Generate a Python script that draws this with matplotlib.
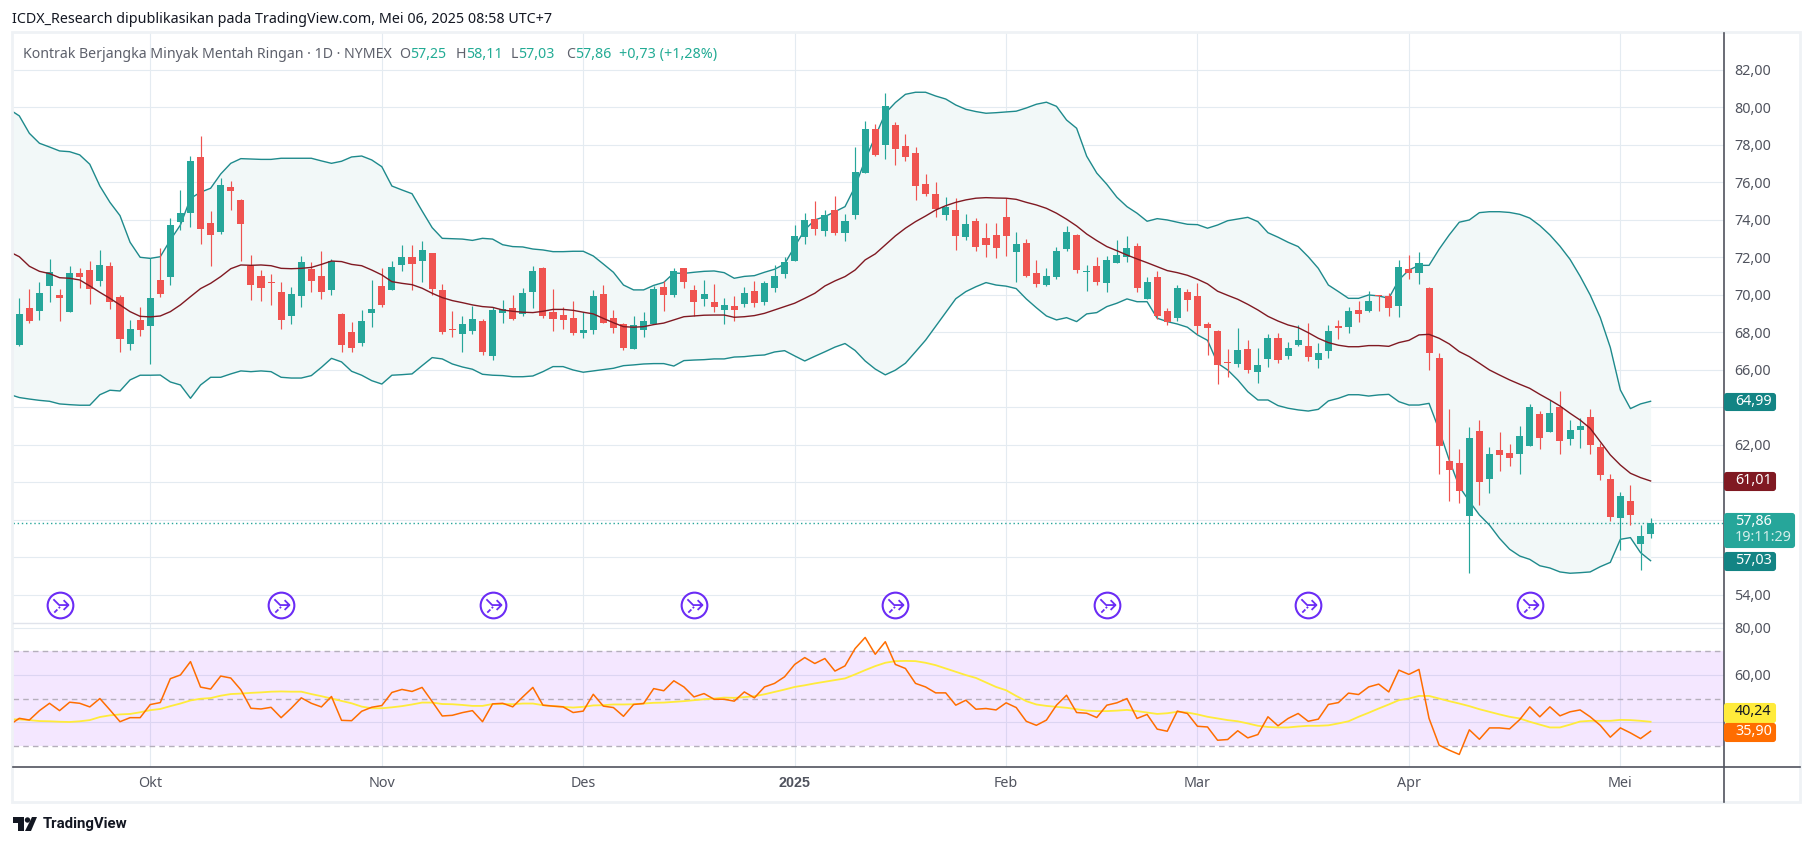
import numpy as np
import matplotlib
matplotlib.use("Agg")
import matplotlib.pyplot as plt
from matplotlib.lines import Line2D
from matplotlib.patches import FancyBboxPatch, Polygon, Circle
from matplotlib.path import Path
from matplotlib.transforms import Affine2D

# daily candles, first one mid September 2024, last one 6 May 2025
opens = [67.33,69.30,69.15,70.48,69.98,69.09,71.17,71.33,70.74,71.55,69.89,67.39,68.67,68.35,70.80,70.96,73.89,74.37,77.36,73.84,
         73.36,75.76,75.07,71.55,71.00,70.67,70.16,68.88,69.94,71.39,71.00,70.27,68.99,68.03,67.44,69.04,70.48,70.27,71.60,72.03,
         71.81,72.24,70.27,68.18,67.92,68.08,68.61,66.75,69.04,69.31,68.99,70.16,71.44,69.09,68.93,68.77,67.97,68.13,70.05,68.77,
         68.45,67.12,68.13,68.45,70.43,70.00,71.44,70.27,69.79,69.63,69.20,69.41,69.52,70.21,69.63,70.37,71.12,71.81,73.09,74.05,
         73.41,74.53,73.31,74.27,76.51,78.85,78.00,79.07,77.95,77.57,75.92,75.39,74.27,74.53,73.09,73.95,73.04,73.20,74.16,72.29,
         72.77,71.17,70.53,70.96,72.45,73.20,71.23,71.55,70.64,71.71,72.03,72.61,69.79,70.96,69.15,68.77,70.16,69.95,68.45,68.08,
         66.43,66.32,67.12,65.89,66.59,67.71,66.75,67.33,67.28,66.53,67.01,68.35,68.29,69.20,69.15,70.00,69.95,69.41,71.39,71.17,
         70.37,66.64,61.15,61.04,58.20,62.75,60.19,61.73,61.57,61.52,61.95,63.65,62.69,64.03,62.32,62.80,63.49,61.89,60.19,58.11,
         59.01,56.72,57.25]
highs = [69.84,70.30,70.68,71.92,70.30,71.55,71.44,71.81,72.40,71.74,69.98,68.67,69.36,71.97,72.50,74.10,75.60,77.41,78.48,74.48,
         76.24,76.08,75.12,72.13,71.33,71.12,70.69,70.43,72.08,71.76,72.35,71.90,69.04,68.56,69.20,70.80,71.44,71.81,72.67,72.67,
         72.88,72.24,70.59,69.15,68.88,69.41,68.72,69.36,69.73,70.00,70.37,71.55,71.49,70.32,69.36,69.68,69.09,70.27,70.53,69.20,
         68.50,68.88,69.09,70.48,70.75,71.44,71.44,70.53,70.80,70.59,69.84,69.95,70.43,70.75,70.75,71.60,72.03,73.73,74.37,75.01,
         74.53,75.28,74.32,77.89,79.28,79.12,80.77,79.23,78.59,77.89,76.45,76.03,75.23,75.17,74.32,74.11,73.84,73.84,75.17,73.36,
         72.99,71.87,71.44,72.56,73.68,73.25,71.60,72.03,72.08,72.93,73.15,72.77,70.96,71.28,69.31,70.53,70.32,70.64,68.56,68.13,
         67.12,68.24,67.60,67.17,67.92,67.97,67.49,68.40,68.51,67.44,68.40,68.67,69.36,69.68,70.21,70.00,70.11,71.87,72.13,72.29,
         70.43,66.91,63.92,61.79,62.96,63.33,61.89,62.69,62.05,63.01,64.19,63.81,64.40,64.88,63.33,63.44,63.92,62.11,60.45,59.49,
         59.87,57.73,58.11]
lows = [67.28,68.52,68.67,69.62,68.61,69.09,70.37,69.52,70.48,69.25,66.96,67.07,67.80,66.32,69.90,70.53,73.47,73.63,72.72,71.55,
        73.25,74.53,71.81,69.73,69.68,69.47,68.19,68.45,69.36,70.16,69.78,70.00,66.96,66.97,67.28,68.31,69.36,70.27,71.28,70.27,
        70.69,70.00,67.92,67.76,66.96,67.92,66.80,66.53,68.50,68.67,68.88,69.31,68.77,68.08,68.19,67.87,67.71,67.92,68.50,67.97,
        67.07,67.12,67.76,68.45,69.15,69.89,70.37,68.88,69.41,69.09,68.45,68.61,69.36,69.36,69.47,70.16,70.90,71.81,72.72,73.20,
        73.15,73.20,72.88,74.05,76.51,77.41,77.25,76.93,77.15,75.07,75.28,74.16,74.00,72.40,72.93,72.35,72.03,71.97,72.08,70.69,
        70.96,70.43,70.48,70.85,72.35,71.17,70.21,70.53,70.16,71.71,71.76,70.16,69.79,68.72,68.40,68.61,69.15,67.92,66.80,65.25,
        65.63,66.16,65.84,65.31,66.16,66.37,66.59,67.28,66.48,66.11,66.64,67.65,67.97,68.56,69.09,69.15,68.88,68.83,70.85,70.59,
        66.00,60.45,59.00,58.90,55.17,58.80,59.44,60.61,60.88,60.45,61.95,61.79,62.69,61.52,62.00,61.84,61.52,60.13,57.95,56.40,
        57.73,55.33,57.03]
closes = [68.99,68.61,70.09,71.21,69.84,71.17,70.96,70.32,71.60,69.62,67.65,68.19,68.13,69.84,70.05,73.73,74.37,77.15,73.52,73.20,
          75.87,75.55,73.79,70.53,70.37,70.64,68.67,70.05,71.76,70.74,70.16,71.81,67.33,67.17,68.61,69.25,69.47,71.49,72.03,71.65,
          72.40,70.32,68.03,68.13,68.45,68.72,66.96,69.20,69.25,68.72,70.10,71.28,68.88,68.72,68.67,67.97,68.13,69.95,68.50,68.24,
          67.17,68.40,68.61,70.32,70.00,71.28,70.69,69.63,70.05,69.36,69.47,69.20,70.10,69.57,70.64,71.01,71.76,73.15,74.00,73.52,
          74.27,73.31,73.95,76.56,78.85,77.47,80.08,77.79,77.36,75.81,75.39,74.59,74.69,73.15,73.79,72.56,72.67,72.51,73.15,72.72,
          71.01,70.59,71.01,72.35,73.36,71.33,71.28,70.69,71.87,72.13,72.51,70.37,70.69,68.88,68.56,70.37,69.73,68.35,68.24,66.27,
          66.37,67.07,66.00,66.27,67.71,66.53,67.17,67.60,66.69,66.91,68.08,68.24,69.15,68.99,69.68,69.95,69.31,71.49,71.17,71.71,
          66.91,61.95,60.67,59.55,62.37,60.03,61.52,61.47,61.31,62.48,64.03,62.37,63.71,62.21,62.80,63.01,62.00,60.40,58.16,59.28,
          58.27,57.15,57.86]

# bollinger bands, these start one day before the first candle
band_upper = [79.90,79.55,78.62,78.09,77.89,77.68,77.64,77.47,76.97,75.81,74.94,74.23,72.81,72.01,71.95,72.04,72.93,73.73,75.15,75.48,
              75.69,76.45,77.02,77.27,77.25,77.23,77.23,77.29,77.29,77.29,77.29,77.15,77.02,77.13,77.36,77.41,77.20,76.84,75.81,75.60,
              75.40,74.48,73.59,73.02,73.00,72.98,72.91,73.02,72.98,72.68,72.58,72.56,72.45,72.40,72.31,72.31,72.33,72.33,72.08,71.65,
              71.21,70.53,70.27,70.27,70.51,70.67,71.17,71.15,71.21,71.26,71.28,71.19,70.89,70.99,71.03,71.21,71.37,71.65,72.58,73.47,
              74.00,74.18,74.44,74.71,75.78,77.20,78.44,79.69,80.26,80.70,80.81,80.81,80.61,80.45,80.13,79.90,79.78,79.69,79.72,79.76,
              79.80,79.97,80.17,80.28,80.06,79.33,78.89,77.40,76.50,75.90,75.21,74.71,74.36,73.93,74.07,74.00,73.88,73.77,73.75,73.56,
              73.73,73.96,74.05,74.14,73.91,73.32,73.08,72.81,72.58,72.04,71.42,70.53,70.18,69.82,69.82,70.00,69.95,69.82,70.80,71.33,
              71.58,71.58,72.44,73.20,73.88,74.00,74.39,74.44,74.44,74.40,74.30,74.10,73.70,73.20,72.60,71.90,71.00,70.00,68.80,67.20,
              64.93,63.94,64.19,64.33]
band_basis = [72.31,72.04,71.53,71.26,71.14,70.92,70.89,70.80,70.48,70.14,69.82,69.47,69.11,68.86,68.83,68.88,69.11,69.47,69.91,70.34,
              70.62,70.98,71.40,71.60,71.58,71.60,71.56,71.42,71.40,71.42,71.47,71.63,71.81,71.78,71.63,71.56,71.33,71.07,70.71,70.62,
              70.55,70.36,70.09,69.86,69.70,69.59,69.47,69.38,69.34,69.20,69.13,69.08,69.06,69.13,69.23,69.23,69.18,69.08,68.99,68.75,
              68.52,68.31,68.28,68.31,68.42,68.50,68.67,68.84,68.88,68.92,68.93,68.93,68.81,68.84,68.90,69.02,69.20,69.38,69.56,69.82,
              70.09,70.48,70.75,70.98,71.33,71.87,72.19,72.67,73.15,73.56,73.91,74.21,74.53,74.76,74.94,75.07,75.16,75.19,75.17,75.16,
              75.10,74.94,74.80,74.62,74.36,74.04,73.68,73.25,72.90,72.58,72.36,72.13,71.92,71.72,71.51,71.30,71.19,71.05,70.84,70.59,
              70.20,69.98,69.77,69.50,69.20,68.86,68.61,68.40,68.26,67.99,67.69,67.46,67.32,67.24,67.24,67.30,67.30,67.26,67.46,67.58,
              67.87,67.90,67.69,67.39,66.98,66.71,66.36,66.00,65.73,65.47,65.24,65.02,64.70,64.40,64.08,63.69,63.33,62.89,62.18,61.47,
              60.93,60.49,60.26,60.08]
band_lower = [64.70,64.53,64.45,64.38,64.33,64.19,64.15,64.12,64.12,64.68,64.92,64.88,65.47,65.72,65.72,65.73,65.36,65.20,64.49,65.20,
              65.61,65.61,65.79,65.95,65.91,65.95,65.91,65.61,65.57,65.57,65.70,66.14,66.62,66.43,65.93,65.72,65.43,65.25,65.72,65.75,
              65.79,66.23,66.66,66.59,66.32,66.16,66.04,65.77,65.72,65.70,65.64,65.64,65.68,65.91,66.18,66.18,66.00,65.88,65.95,66.02,
              66.09,66.23,66.27,66.32,66.34,66.34,66.21,66.50,66.53,66.55,66.59,66.59,66.69,66.71,66.77,66.80,66.96,67.03,66.75,66.48,
              66.73,66.97,67.22,67.41,67.04,66.48,66.05,65.74,65.99,66.36,66.97,67.59,68.33,69.07,69.80,70.18,70.44,70.66,70.53,70.47,
              70.34,69.79,69.32,68.88,68.67,68.79,68.58,68.99,69.06,69.38,69.56,69.79,69.64,69.64,68.76,68.58,68.45,68.28,67.87,67.58,
              66.36,66.00,65.47,64.84,64.40,64.40,64.10,63.96,63.87,63.81,63.90,64.35,64.49,64.68,64.68,64.61,64.67,64.70,64.31,64.13,
              64.13,64.22,62.80,61.20,59.78,59.00,58.27,57.73,57.02,56.44,56.08,55.90,55.56,55.44,55.23,55.16,55.19,55.23,55.51,55.74,
              56.97,57.06,56.26,55.83]

# rsi and its moving average, same start as the bands
rsi = [38.8,41.65,40.94,44.9,48.0,44.9,48.46,48.0,46.47,50.0,45.2,40.23,41.93,41.93,47.46,48.3,58.4,59.95,65.6,54.84,
       54.0,59.5,58.67,53.7,45.9,45.6,46.3,41.93,45.9,50.3,48.0,46.47,50.87,40.8,40.65,44.63,46.33,47.04,52.57,53.85,
       53.0,54.7,48.74,42.64,42.92,44.06,44.9,40.23,47.75,48.0,46.5,50.7,54.7,47.2,46.8,46.5,44.1,44.7,51.8,46.8,
       46.2,42.5,47.5,47.9,54.2,53.3,57.5,54.9,50.7,52.1,49.7,49.7,48.9,52.8,50.3,54.9,56.4,59.2,64.4,67.3,
       64.8,66.9,61.6,63.8,71.1,75.8,68.7,74.0,64.4,62.7,56.4,54.9,52.4,52.4,47.2,49.3,45.5,45.8,45.2,48.2,
       46.2,40.4,38.7,40.9,47.2,51.4,44.1,43.8,42.0,47.2,48.2,50.0,41.6,43.3,37.1,36.2,44.7,43.7,38.3,38.0,
       32.4,32.7,36.4,33.4,34.8,42.3,38.5,41.6,43.7,40.4,41.3,47.5,48.3,52.3,51.7,54.9,56.1,52.8,62.0,60.2,
       62.3,41.6,30.3,28.2,26.4,36.8,32.8,37.6,37.6,37.2,41.1,46.5,42.3,46.5,42.7,44.4,45.2,42.3,38.7,33.7,
       37.6,35.5,33.1,36.2]
rsi_ma = [41.2,41.2,40.9,40.5,40.4,40.2,40.1,40.4,40.9,42.2,42.9,43.3,43.5,44.2,45.1,45.6,46.8,47.9,49.2,49.9,
          50.2,51.2,51.9,52.1,52.4,52.6,52.9,53.0,52.9,52.9,51.9,51.0,50.0,49.0,48.0,46.6,45.9,45.9,46.3,46.8,
          47.5,48.3,48.3,47.7,47.6,47.3,46.9,46.9,47.7,47.7,47.6,47.9,47.9,47.2,46.8,46.5,46.2,46.5,47.1,47.2,
          47.5,47.5,47.6,47.9,48.2,48.3,48.6,48.9,49.3,49.7,50.0,50.4,50.3,50.6,51.0,51.8,52.8,53.8,54.9,55.6,
          56.4,57.1,57.8,58.5,60.2,62.0,63.7,65.1,65.8,65.9,65.8,65.1,64.1,62.7,61.3,59.9,58.7,56.8,54.9,53.5,
          51.1,48.9,47.5,46.9,46.5,46.1,45.5,44.9,44.7,44.7,44.9,45.2,44.7,44.1,43.5,43.8,44.4,44.1,43.3,42.3,
          41.6,40.9,40.4,39.5,38.5,38.0,37.8,37.8,38.2,38.5,38.5,38.7,39.5,40.4,42.3,44.0,45.8,47.5,49.3,50.0,
          51.1,51.1,50.0,48.9,47.9,46.8,45.5,44.4,43.3,42.3,41.6,40.2,39.0,37.8,37.8,39.0,40.3,40.6,40.6,40.6,
          41.0,40.9,40.6,40.2]

month_idx = [13, 36, 56, 77, 98, 117, 138, 159]
month_labels = ["Okt", "Nov", "Des", "2025", "Feb", "Mar", "Apr", "Mei"]
roll_idx = [4, 26, 47, 67, 87, 108, 128, 150]
price_ticks = list(range(54, 84, 2))
rsi_ticks = [40, 60, 80]
# these axis labels sit under the value badges in the picture
hidden_price = [56, 58, 60, 64]
hidden_rsi = [40]

W, H = 1814, 846
UP, DOWN = "#26A69A", "#EF5350"
GRID = "#E4EBF1"
TXT = "#50535E"
FONT = ["Noto Sans", "DejaVu Sans"]
plt.rcParams["font.family"] = FONT

opens, highs, lows, closes = map(np.array, (opens, highs, lows, closes))
x = np.arange(len(closes))
xb = np.arange(-1, len(closes))

fig = plt.figure(figsize=(W / 100, H / 100), dpi=100, facecolor="white")
px = Affine2D().scale(1, -1).translate(0, H)  # pixel coords, y down


def make_ax(top, bottom):
    ax = fig.add_axes([13 / W, 1 - bottom / H, (1724 - 13) / W, (bottom - top) / H])
    ax.set_xlim(-0.626, 169.29)
    for s in ax.spines.values():
        s.set_visible(False)
    ax.set_xticks(month_idx)
    ax.grid(True, color=GRID, lw=0.8)
    ax.set_axisbelow(True)
    ax.yaxis.tick_right()
    ax.tick_params(length=0, labelsize=10.3, labelcolor=TXT, pad=7.5)
    return ax


def raise_ticks(ax):
    for t in ax.yaxis.get_major_ticks():
        t.label2.set_verticalalignment("center_baseline")


# price pane
ax = make_ax(33, 622)
ax.set_ylim(52.56, 83.97)
ax.set_yticks(price_ticks)
ax.set_yticklabels(["" if t in hidden_price else f"{t},00" for t in price_ticks])
ax.tick_params(labelbottom=False)
raise_ticks(ax)

ax.fill_between(xb, band_lower, band_upper, color="#F2F8F8", lw=0, zorder=1)
ax.axhline(closes[-1], color=UP, lw=1, ls=(0, (1, 2)), zorder=1.5)
ax.plot(xb, band_upper, color="#1E8A8C", lw=1.0, zorder=2)
ax.plot(xb, band_lower, color="#1E8A8C", lw=1.0, zorder=2)

up = closes >= opens
colors = np.where(up, UP, DOWN)
ax.vlines(x, lows, highs, colors=colors, lw=0.85, zorder=3)
ax.bar(x, closes - opens, bottom=opens, width=0.7, color=colors, lw=0, zorder=3)
ax.plot(xb, band_basis, color="#801922", lw=1.0, zorder=4)

# contract roll markers
arrow = Path([(-0.8, 0.7), (-0.15, 0.05), (0.9, 0.05), (0.35, 0.6), (0.9, 0.05), (0.35, -0.5),
              (-0.7, -0.8), (-0.35, -0.45), (-0.2, -0.3), (-0.05, -0.15)],
             [1, 2, 2, 1, 2, 2, 1, 2, 1, 2])
roll_y = [53.47] * len(roll_idx)
ax.plot(roll_idx, roll_y, ls="", marker="o", ms=18.5, mfc="white", mec="#6B2CF5", mew=1.5, zorder=5)
ax.plot(roll_idx, roll_y, ls="", marker=arrow, ms=11.5, mfc="none", mec="#6B2CF5", mew=1.3, zorder=6)

# rsi pane
ax2 = make_ax(623, 767)
ax2.set_ylim(21.1, 81.9)
ax2.set_yticks(rsi_ticks)
ax2.set_yticklabels(["" if t in hidden_rsi else f"{t},00" for t in rsi_ticks])
ax2.set_xticklabels(month_labels)
ax2.tick_params(axis="x", pad=6.5)
raise_ticks(ax2)
year_label = ax2.get_xticklabels()[3]
year_label.set_fontfamily("Liberation Sans")
year_label.set_fontweight("bold")
ax2.axhspan(30, 70, color="#9915FF", alpha=0.1, lw=0, zorder=1)
for lvl in [30, 50, 70]:
    ax2.axhline(lvl, color="#B5AFBC", lw=1, ls=(0, (4, 3)), zorder=1.5)
ax2.plot(xb, rsi_ma, color="#FFEB3B", lw=1.3, zorder=2)
ax2.plot(xb, rsi, color="#FF6D00", lw=1.1, zorder=3)


def badge(y0, y1, x1, bg):
    fig.add_artist(FancyBboxPatch((1725, y0 + 1), x1 - 1726, y1 - y0 - 2, boxstyle="round,pad=0,rounding_size=2",
                                  transform=px, fc=bg, ec=bg, lw=1.5, zorder=2))


def label(xp, yp, s, color=TXT, size=10.3, **kw):
    fig.text(xp, yp, s, transform=px, color=color, fontsize=size, va="center", zorder=4, **kw)


# frame and separators
fig.add_artist(FancyBboxPatch((12, 32), 1788, 770, boxstyle="square,pad=0", transform=px,
                              fc="none", ec="#EFF2F5", lw=2, zorder=1))
fig.add_artist(Line2D([13, 1724], [622.5, 622.5], transform=px, color="#E0E3EB", lw=1, zorder=1))
fig.add_artist(Line2D([13, 1800], [767, 767], transform=px, color=TXT, lw=1.2, zorder=1))
fig.add_artist(Line2D([1724, 1724], [33, 802], transform=px, color=TXT, lw=1.2, zorder=1))

# value badges on the axis
badge(393, 411, 1776, "#138484")
label(1735, 401, "64,99", "white", weight="medium")
badge(472, 491, 1776, "#801922")
label(1735, 480, "61,01", "white", weight="medium")
badge(513, 548, 1795, UP)
label(1735, 521, "57,86", "white", weight="medium")
label(1735, 537, "19:11:29", "#D4EEEA", weight="medium")
badge(552, 571, 1776, "#138484")
label(1735, 560, "57,03", "white", weight="medium")
badge(703, 723, 1776, "#FFEB3B")
label(1735, 711, "40,24", "#131722", weight="medium")
badge(723, 742, 1776, "#FF6D00")
label(1735, 731, "35,90", "white", weight="medium")

# header and legend texts
label(12, 19, "ICDX_Research dipublikasikan pada TradingView.com, Mei 06, 2025 08:58 UTC+7", "#131722", 10.3)
label(23, 54, "Kontrak Berjangka Minyak Mentah Ringan · 1D · NYMEX", "#5D606B", 10.2)
for xp, dx, letter, val in [(399, 11, "O", "57,25"), (456, 10, "H", "58,11"), (511, 7, "L", "57,03"), (566, 9, "C", "57,86")]:
    label(xp, 54, letter, "#5D606B", 10.2)
    label(xp + dx, 54, val, "#22AB94", 10.2)
label(619, 54, "+0,73 (+1,28%)", "#22AB94", 10.3)

# TradingView mark
fig.add_artist(Polygon([(13, 817), (24, 817), (24, 831), (18, 831), (18, 823), (13, 823)], transform=px, fc="#131722", ec="none", zorder=2))
fig.add_artist(Circle((27.5, 820), 2.7, transform=px, fc="#131722", ec="none", zorder=2))
fig.add_artist(Polygon([(32, 817), (37, 817), (31, 831), (25, 831)], transform=px, fc="#131722", ec="none", zorder=2))
label(43, 824, "TradingView", "#131722", 10.8, family="Roboto", weight="bold")

fig.savefig("out.png", dpi=100)
